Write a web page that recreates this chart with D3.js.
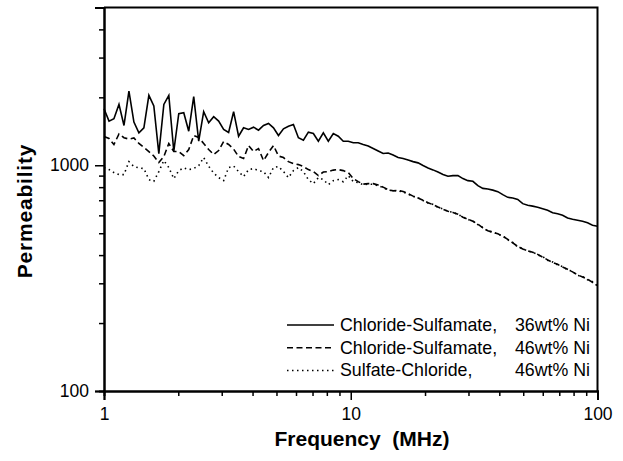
<!DOCTYPE html>
<html>
<head>
<meta charset="utf-8">
<title>Permeability vs Frequency</title>
<style>
body { margin: 0; background: #fff; }
#chart { display: block; }
text { font-family: "Liberation Sans", Arial, sans-serif; fill: #000; }
</style>
<script src="https://d3js.org/d3.v7.min.js"></script>
</head>
<body>
<svg id="chart" width="623" height="461"></svg>
<script>
// frequency points (MHz)
var freq = [1.000,1.048,1.097,1.150,1.205,1.262,1.322,1.385,1.451,1.520,
	1.592,1.668,1.748,1.831,1.918,2.009,2.105,2.205,2.310,2.420,
	2.535,2.656,2.783,2.915,3.054,3.199,3.352,3.511,3.678,3.854,
	4.037,4.229,4.431,4.642,4.863,5.094,5.337,5.591,5.857,6.136,
	6.428,6.734,7.055,7.391,7.743,8.111,8.498,8.902,9.326,9.770,
	10.24,10.72,11.23,11.77,12.33,12.92,13.53,14.18,14.85,15.56,
	16.30,17.08,17.89,18.74,19.63,20.57,21.54,22.57,23.65,24.77,
	25.95,27.19,28.48,29.84,31.26,32.75,34.31,35.94,37.65,39.45,
	41.32,43.29,45.35,47.51,49.77,52.14,54.62,57.22,59.95,62.80,
	65.79,68.92,72.20,75.64,79.24,83.02,86.97,91.11,95.45,100.0];

// Chloride-Sulfamate, 36wt% Ni
var cs36 = [1781,1569,1607,1861,1501,2132,1553,1393,1466,2041,
	1830,1127,1861,2041,1154,1692,1710,1416,2014,1278,
	1727,1543,1641,1569,1441,1397,1727,1345,1466,1441,
	1475,1431,1501,1532,1466,1355,1451,1490,1516,1324,
	1291,1402,1383,1278,1393,1278,1383,1345,1278,1278,
	1258,1258,1236,1217,1186,1156,1127,1133,1110,1082,
	1071,1055,1038,1025,997,972,954,933,911,894,
	900,900,873,855,849,812,790,785,776,764,
	741,721,716,706,676,665,659,652,642,632,
	616,610,601,584,577,571,565,556,542,537];

// Chloride-Sulfamate, 46wt% Ni
var cs46 = [1341,1314,1236,1376,1324,1307,1321,1249,1199,1150,
	1099,1028,1093,1249,1150,1150,1104,1174,1355,1328,
	1249,1174,1116,1162,1274,1236,1180,1093,1071,1223,
	1150,1186,1049,1139,1223,1099,1082,1038,1017,1007,
	987,957,938,900,933,938,952,957,947,928,
	873,846,825,829,829,817,800,780,770,774,
	766,748,730,716,700,683,669,653,639,626,
	618,607,589,577,565,548,528,513,505,497,
	485,470,453,437,426,418,412,403,392,381,
	371,364,354,346,337,327,320,313,303,293];

// Sulfate-Chloride, 46wt% Ni
var sc46 = [977,957,928,909,909,1038,987,974,967,864,
	849,938,1049,977,873,947,974,957,967,997,
	1082,990,923,882,855,977,992,938,891,957,
	967,947,938,882,977,987,938,882,947,977,
	938,864,829,882,864,821,855,864,846,900,
	846,838,820,826,823,812,797,776,772,770,
	762,745,728,718,698,681,671,651,641,624,
	620,605,591,575,567,546,530,511,507,495,
	487,468,455,435,428,416,413,401,394,379,
	373,362,356,344,339,325,322,311,305,292];

var seriesNames = ["Chloride-Sulfamate,", "Chloride-Sulfamate,", "Sulfate-Chloride,"];
var seriesNi = ["36wt% Ni", "46wt% Ni", "46wt% Ni"];
var seriesDash = [null, "6,3.5", "1.5,3.5"];

var xMajor = [1, 10, 100];
var xMinor = [2,3,4,5,6,7,8,9,20,30,40,50,60,70,80,90];
var yMajor = [100, 1000];
var yMinor = [200,300,400,500,600,700,800,900,2000,3000,4000];

var svg = d3.select("#chart");
var L = 104, R = 597.5, T = 7.5, B = 391;

var x = d3.scaleLog().domain([1, 100]).range([L, R]);
var y = d3.scaleLog().domain([100, 5000]).range([B, T]);

// frame (top and right)
svg.append("path")
	.attr("d", "M" + L + "," + T + "H" + R + "V" + B)
	.attr("fill", "none")
	.attr("stroke", "#000")
	.attr("stroke-width", 2);

function styleAxis(g, fs) {
	g.select(".domain").attr("stroke-width", 2);
	g.selectAll(".tick line").attr("stroke-width", 1.5);
	g.selectAll(".tick text")
		.style("font-family", '"Liberation Sans", Arial, sans-serif')
		.style("font-size", fs + "px")
		.attr("fill", "#000");
}

// y axis
var gy = svg.append("g").attr("transform", "translate(" + L + ",0)");
gy.call(d3.axisLeft(y).tickValues(yMinor).tickSize(5).tickFormat(""));
var gy2 = svg.append("g").attr("transform", "translate(" + L + ",0)");
gy2.call(d3.axisLeft(y).tickValues(yMajor).tickSize(9).tickPadding(6).tickFormat(d3.format("d")));
styleAxis(gy, 17.5);
styleAxis(gy2, 17.5);

// x axis
var gx = svg.append("g").attr("transform", "translate(0," + B + ")");
gx.call(d3.axisBottom(x).tickValues(xMinor).tickSize(5).tickFormat(""));
var gx2 = svg.append("g").attr("transform", "translate(0," + B + ")");
gx2.call(d3.axisBottom(x).tickValues(xMajor).tickSize(9).tickPadding(8).tickFormat(d3.format("d")));
styleAxis(gx, 17.5);
styleAxis(gx2, 17.5);

// axis titles
svg.append("text")
	.attr("transform", "translate(32,211) rotate(-90)")
	.attr("text-anchor", "middle")
	.style("font-size", "21px")
	.style("font-weight", "bold")
	.style("letter-spacing", "0.8px")
	.text("Permeability");

svg.append("text")
	.attr("x", 362)
	.attr("y", 446)
	.attr("text-anchor", "middle")
	.style("font-size", "21px")
	.style("font-weight", "bold")
	.style("white-space", "pre")
	.text("Frequency  (MHz)");

// curves
var allSeries = [cs36, cs46, sc46];
var line = d3.line()
	.x(function(d, i) { return x(freq[i]); })
	.y(function(d) { return y(d); });

allSeries.forEach(function(s, k) {
	svg.append("path")
		.datum(s)
		.attr("d", line)
		.attr("fill", "none")
		.attr("stroke", "#000")
		.attr("stroke-width", 1.6)
		.attr("stroke-linejoin", "miter")
		.attr("stroke-dasharray", seriesDash[k]);
});

// legend
var legY = [325, 347.7, 370.4];
seriesNames.forEach(function(name, k) {
	svg.append("line")
		.attr("x1", 287).attr("x2", 334)
		.attr("y1", legY[k]).attr("y2", legY[k])
		.attr("stroke", "#000")
		.attr("stroke-width", 1.5)
		.attr("stroke-dasharray", seriesDash[k]);
	svg.append("text")
		.attr("x", 340).attr("y", legY[k] + 6)
		.style("font-size", "17.8px")
		.text(name);
	svg.append("text")
		.attr("x", 590).attr("y", legY[k] + 6)
		.attr("text-anchor", "end")
		.style("font-size", "17.8px")
		.text(seriesNi[k]);
});
</script>
</body>
</html>
